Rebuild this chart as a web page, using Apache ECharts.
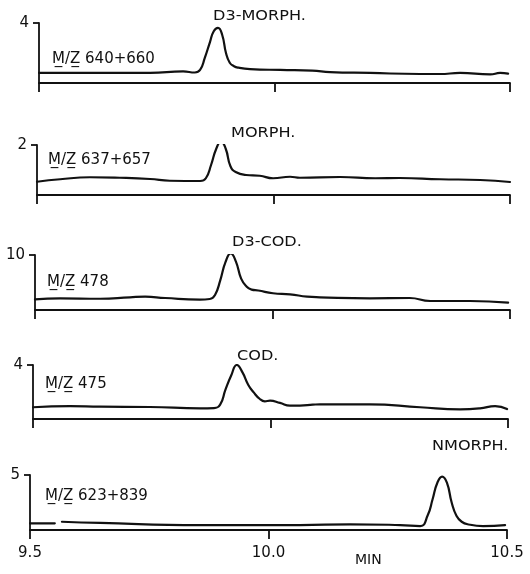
<!DOCTYPE html>
<html>
<head>
<meta charset="utf-8">
<script src="https://cdn.jsdelivr.net/npm/echarts@6/dist/echarts.min.js"></script>
<style>
  html, body { margin: 0; padding: 0; background: #fff; }
  #chart { width: 530px; height: 574px; }
</style>
</head>
<body>
<div id="chart"></div>
<script>
// retention time (min) and abundance
var d3MorphT = [9.500, 9.587, 9.736, 9.806, 9.831, 9.842, 9.852, 9.863, 9.871, 9.880, 9.889, 9.897, 9.905, 9.914, 9.924, 9.948, 10.012, 10.080, 10.118, 10.203, 10.309, 10.351, 10.394, 10.458, 10.479, 10.496];
var d3MorphY = [0.67, 0.67, 0.67, 0.77, 0.70, 0.87, 1.67, 2.73, 3.45, 3.67, 3.20, 2.00, 1.35, 1.12, 1.02, 0.93, 0.87, 0.83, 0.73, 0.67, 0.60, 0.60, 0.67, 0.57, 0.67, 0.63];

var morphT = [9.500, 9.549, 9.612, 9.675, 9.739, 9.781, 9.845, 9.857, 9.868, 9.879, 9.889, 9.899, 9.909, 9.920, 9.942, 9.971, 9.999, 10.035, 10.056, 10.141, 10.215, 10.267, 10.352, 10.437, 10.500];
var morphY = [0.53, 0.63, 0.71, 0.69, 0.64, 0.57, 0.56, 0.67, 1.20, 1.85, 2.14, 1.85, 1.15, 0.92, 0.80, 0.77, 0.67, 0.73, 0.69, 0.72, 0.67, 0.68, 0.63, 0.60, 0.52];

var d3CodT = [9.500, 9.553, 9.637, 9.700, 9.732, 9.774, 9.847, 9.868, 9.879, 9.890, 9.901, 9.912, 9.923, 9.934, 9.945, 9.956, 9.970, 10.001, 10.037, 10.073, 10.100, 10.205, 10.289, 10.332, 10.416, 10.496];
var d3CodY = [1.94, 2.12, 2.05, 2.31, 2.42, 2.18, 1.90, 2.00, 2.73, 5.40, 8.70, 10.30, 8.80, 5.70, 4.30, 3.70, 3.55, 3.04, 2.85, 2.42, 2.31, 2.13, 2.18, 1.64, 1.64, 1.33];

var codT = [9.500, 9.578, 9.641, 9.746, 9.852, 9.881, 9.894, 9.905, 9.917, 9.929, 9.941, 9.953, 9.965, 9.977, 9.988, 9.999, 10.020, 10.041, 10.062, 10.089, 10.104, 10.209, 10.315, 10.399, 10.441, 10.473, 10.498];
var codY = [0.87, 0.96, 0.91, 0.89, 0.79, 0.81, 1.06, 2.15, 3.20, 4.00, 3.45, 2.54, 1.95, 1.50, 1.31, 1.36, 1.19, 0.99, 0.99, 1.06, 1.09, 1.09, 0.87, 0.72, 0.79, 0.96, 0.74];

var nmorphT = [9.500, 9.552, 9.558, 9.567, 9.647, 9.856, 10.066, 10.171, 10.276, 10.318, 10.334, 10.344, 10.354, 10.364, 10.374, 10.384, 10.394, 10.405, 10.420, 10.450, 10.496];
var nmorphY = [0.61, 0.61, null, 0.75, 0.64, 0.45, 0.45, 0.52, 0.45, 0.36, 1.36, 2.80, 4.30, 4.85, 4.30, 2.50, 1.30, 0.75, 0.50, 0.36, 0.45];

var xTicks = [9.5, 10.0, 10.5];
var yTops = [4, 2, 10, 4, 5];
var peakNames = ['D3-MORPH.', 'MORPH.', 'D3-COD.', 'COD.', 'NMORPH.'];
var ionNames = ['M\u0332/Z\u0332 640+660', 'M\u0332/Z\u0332 637+657', 'M\u0332/Z\u0332 478', 'M\u0332/Z\u0332 475', 'M\u0332/Z\u0332 623+839'];

var traces = [[d3MorphT, d3MorphY], [morphT, morphY], [d3CodT, d3CodY], [codT, codY], [nmorphT, nmorphY]];

// panel boxes in px (scan is slightly skewed, so each one sits a bit further left)
var boxes = [
  { left: 39, right: 20, top: 23, height: 60 },
  { left: 37, right: 20, top: 145, height: 50 },
  { left: 35, right: 20, top: 255, height: 55 },
  { left: 33, right: 22, top: 365, height: 54 },
  { left: 30, right: 23, top: 475, height: 55 }
];
var peakPos = [[213, 16], [231, 133], [232, 242], [237, 356], [432, 446]];
var ionPos = [[52, 59], [48, 160], [47, 282], [45, 384], [45, 496]];

var FONT = 'DejaVu Sans';
var ink = '#111';

var chart = echarts.init(document.getElementById('chart'), null, { renderer: 'canvas' });

var grids = [], xAxes = [], yAxes = [], series = [], graphics = [];
for (var i = 0; i < 5; i++) {
  var last = i === 4;
  grids.push({ left: boxes[i].left, right: boxes[i].right, top: boxes[i].top, height: boxes[i].height, containLabel: false });
  xAxes.push({
    type: 'value', gridIndex: i, min: 9.5, max: 10.5, interval: 0.5,
    axisLine: { show: true, lineStyle: { color: ink, width: 1.8 } },
    axisTick: { show: true, inside: false, length: 9, lineStyle: { color: ink, width: 1.8 } },
    splitLine: { show: false },
    axisLabel: {
      show: last, margin: 16, color: ink, fontSize: 15, fontFamily: FONT,
      customValues: xTicks,
      formatter: function (v) { return v.toFixed(1); }
    }
  });
  yAxes.push({
    type: 'value', gridIndex: i, min: 0, max: yTops[i], interval: yTops[i],
    axisLine: { show: true, lineStyle: { color: ink, width: 1.8 } },
    axisTick: { show: true, inside: false, length: 6, customValues: [yTops[i]], lineStyle: { color: ink, width: 1.8 } },
    splitLine: { show: false },
    axisLabel: { margin: 10, color: ink, fontSize: 15, fontFamily: FONT, customValues: [yTops[i]] }
  });
  var pts = traces[i][0].map(function (t, k) { return [t, traces[i][1][k]]; });
  series.push({
    type: 'line', xAxisIndex: i, yAxisIndex: i, data: pts,
    showSymbol: false, smooth: 0.5, connectNulls: false, animation: false,
    lineStyle: { color: ink, width: 2.2, join: 'round', cap: 'round' }
  });
  graphics.push({
    type: 'text', x: peakPos[i][0], y: peakPos[i][1], scaleX: 1.15,
    style: { text: peakNames[i], fill: ink, font: '14px "' + FONT + '"', textAlign: 'left', textVerticalAlign: 'middle' }
  });
  graphics.push({
    type: 'text', x: ionPos[i][0], y: ionPos[i][1],
    style: { text: ionNames[i], fill: ink, font: '15px "' + FONT + '"', textAlign: 'left', textVerticalAlign: 'middle' }
  });
}
graphics.push({
  type: 'text', x: 355, y: 560,
  style: { text: 'MIN', fill: ink, font: '14px "' + FONT + '"', textAlign: 'left', textVerticalAlign: 'middle' }
});

chart.setOption({
  backgroundColor: '#fff',
  animation: false,
  grid: grids,
  xAxis: xAxes,
  yAxis: yAxes,
  series: series,
  graphic: graphics
});
</script>
</body>
</html>
